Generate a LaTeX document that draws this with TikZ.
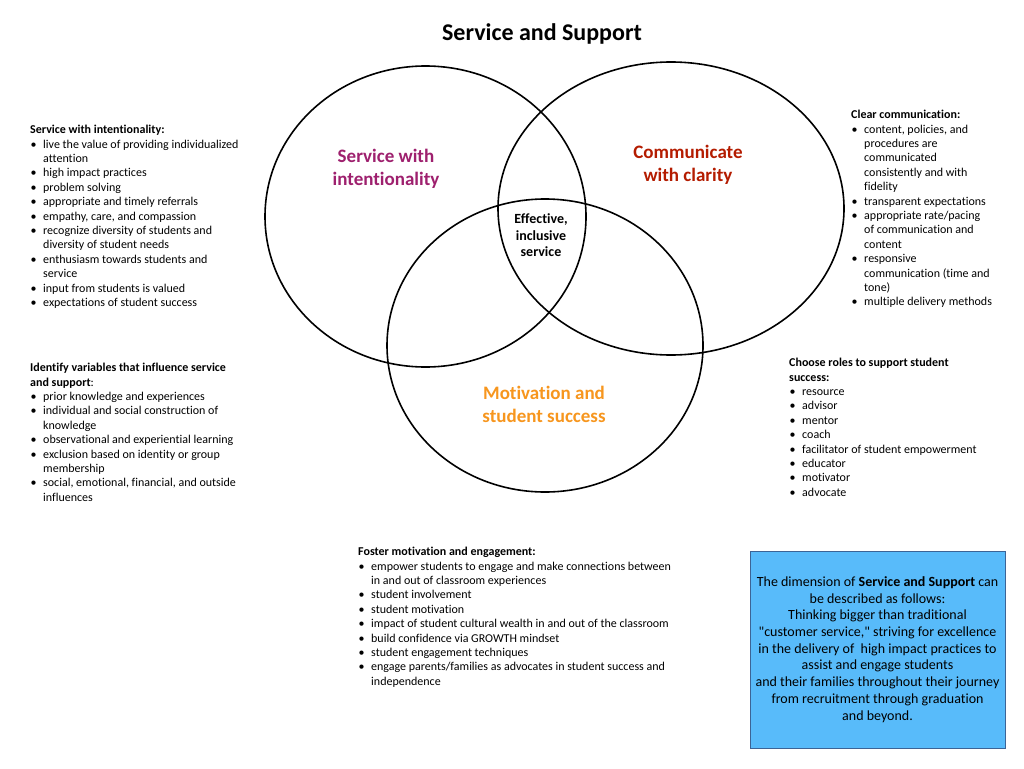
\documentclass[tikz,border=0pt]{standalone}
\usepackage{fontspec}
\setmainfont{Carlito}[Ligatures=NoCommon]
\usetikzlibrary{positioning}

\definecolor{intentcol}{RGB}{158,32,110}
\definecolor{claritycol}{RGB}{180,28,0}
\definecolor{motivcol}{RGB}{247,150,30}
\definecolor{boxblue}{RGB}{88,187,250}
\definecolor{boxedge}{RGB}{60,100,150}

\newcommand{\bul}{\makebox[13pt][l]{\hspace{0.5pt}\textbullet}}
\newcommand{\cont}{\hspace*{13pt}}

\tikzset{
  venn/.style={draw, line width=1.6pt},
  listbox/.style={anchor=north west, inner sep=0pt, align=left, font=\fontsize{12}{14.4}\selectfont},
  setlabel/.style={align=center, inner sep=0pt, font=\fontsize{19}{23}\selectfont\bfseries},
  descbox/.style={draw=boxedge, fill=boxblue, line width=1pt, align=center, inner sep=0pt, font=\fontsize{14}{16.7}\selectfont},
}

\begin{document}
\begin{tikzpicture}[x=1pt,y=-1pt]
            \useasboundingbox (0,0) rectangle (1024,768);
            \fill[white] (0,0) rectangle (1024,768);

            \node[font=\fontsize{24}{28}\selectfont\bfseries] (title) at (542,34) {Service and Support};

            \draw[venn] (425.5,216.5) ellipse [x radius=160.5, y radius=150.5];
            \draw[venn] (671,208.5) ellipse [x radius=173, y radius=146.5];
            \draw[venn] (545,345.5) ellipse [x radius=158, y radius=146.5];

            \node[setlabel, text=intentcol] (intent) at (386,168.5) {Service with\\intentionality};
            \node[setlabel, text=claritycol] (clarity) at (688,165) {Communicate\\with clarity};
            \node[setlabel, text=motivcol] (motiv) at (544,404.5) {Motivation and\\student success};
            \node[align=center, inner sep=0pt, font=\fontsize{14}{16.5}\selectfont\bfseries] (core) at (541,235.5) {Effective,\\inclusive\\service};

            \node[listbox] (intentlist) at (30,125) {\textbf{Service with intentionality:}\\
              \bul live the value of providing individualized\\
              \cont attention\\
              \bul high impact practices\\
              \bul problem solving\\
              \bul appropriate and timely referrals\\
              \bul empathy, care, and compassion\\
              \bul recognize diversity of students and\\
              \cont diversity of student needs\\
              \bul enthusiasm towards students and\\
              \cont service\\
              \bul input from students is valued\\
              \bul expectations of student success};

            \node[listbox] (claritylist) at (851,110) {\textbf{Clear communication:}\\
              \bul content, policies, and\\
              \cont procedures are\\
              \cont communicated\\
              \cont consistently and with\\
              \cont fidelity\\
              \bul transparent expectations\\
              \bul appropriate rate/pacing\\
              \cont of communication and\\
              \cont content\\
              \bul responsive\\
              \cont communication (time and\\
              \cont tone)\\
              \bul multiple delivery methods};

            \node[listbox] (varlist) at (30,363) {\textbf{Identify variables that influence service}\\
              \textbf{and support}:\\
              \bul prior knowledge and experiences\\
              \bul individual and social construction of\\
              \cont knowledge\\
              \bul observational and experiential learning\\
              \bul exclusion based on identity or group\\
              \cont membership\\
              \bul social, emotional, financial, and outside\\
              \cont influences};

            \node[listbox] (rolelist) at (789,358) {\textbf{Choose roles to support student}\\
              \textbf{success:}\\
              \bul resource\\
              \bul advisor\\
              \bul mentor\\
              \bul coach\\
              \bul facilitator of student empowerment\\
              \bul educator\\
              \bul motivator\\
              \bul advocate};

            \node[listbox] (fosterlist) at (358,547) {\textbf{Foster motivation and engagement:}\\
              \bul empower students to engage and make connections between\\
              \cont in and out of classroom experiences\\
              \bul student involvement\\
              \bul student motivation\\
              \bul impact of student cultural wealth in and out of the classroom\\
              \bul build confidence via GROWTH mindset\\
              \bul student engagement techniques\\
              \bul engage parents/families as advocates in student success and\\
              \cont independence};

            \node[descbox, minimum width=255, minimum height=197] (desc) at (877.5,649.5) {The dimension of \textbf{Service and Support} can\\
              be described as follows:\\
              Thinking bigger than traditional\\
              \textquotedbl customer service,\textquotedbl{} striving for excellence\\
              in the delivery of\ \ high impact practices to\\
              assist and engage students\\
              and their families throughout their journey\\
              from recruitment through graduation\\
              and beyond.};

        \end{tikzpicture}
\end{document}
